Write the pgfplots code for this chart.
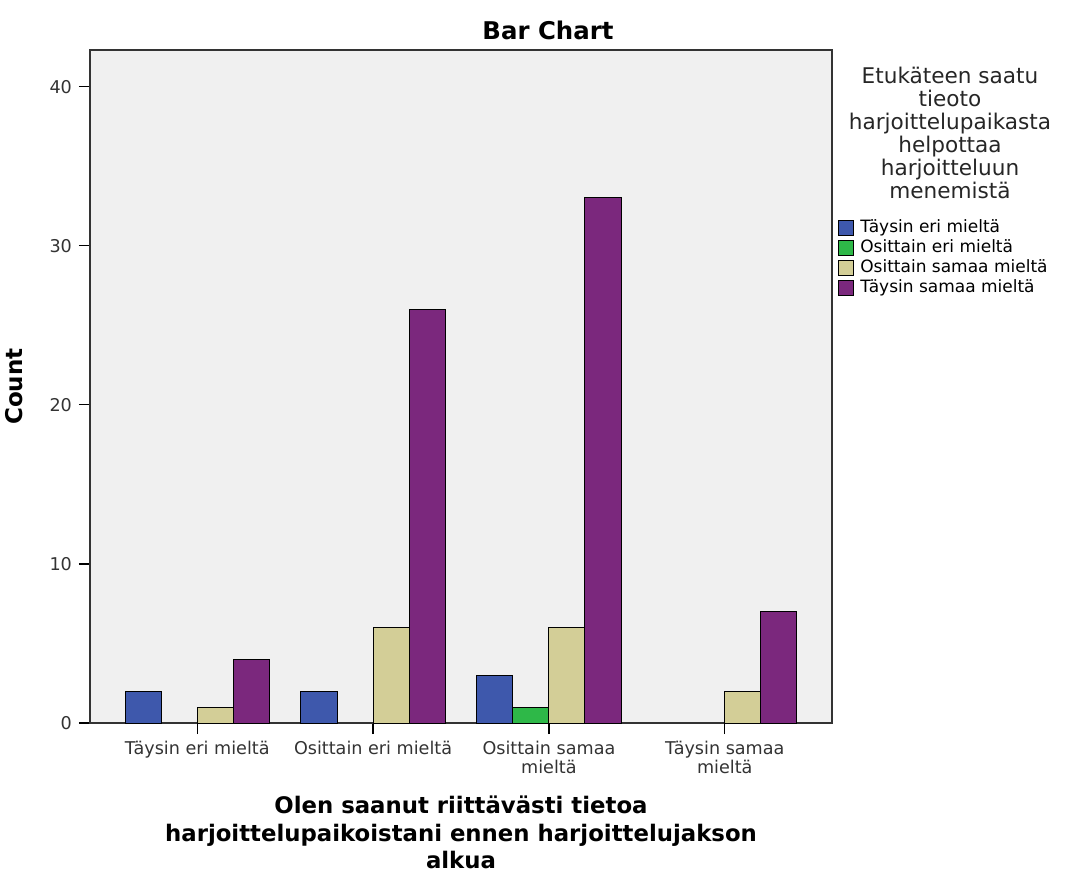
\documentclass[border=0pt]{standalone}
\usepackage{pgfplots}
\pgfplotsset{compat=1.18}
\usepackage{fontspec}
\setmainfont{DejaVu Sans}
\definecolor{cblue}{HTML}{3E58AC}
\definecolor{cgreen}{HTML}{2EB848}
\definecolor{cbeige}{HTML}{D3CE97}
\definecolor{cpurple}{HTML}{7B287D}
\definecolor{cbg}{HTML}{F0F0F0}
\begin{document}
\begin{tikzpicture}
\useasboundingbox (-45pt,-75pt) rectangle (489pt,361.5pt);
\begin{axis}[
  at={(0pt,0pt)}, anchor=south west,
  scale only axis,
  width=371pt, height=336.5pt,
  axis background/.style={fill=cbg},
  ybar=0pt,
  bar width=0.205,
  xmin=-0.61, xmax=3.61,
  ymin=0, ymax=42.3,
  xtick={0,1,2,3},
  xticklabels={T\"aysin eri mielt\"a, Osittain eri mielt\"a, Osittain samaa\\mielt\"a, T\"aysin samaa\\mielt\"a},
  xticklabel style={align=center, font=\fontsize{8.8}{9.6}\selectfont, text=black!80},
  ytick={0,10,20,30,40},
  yticklabel style={font=\fontsize{8.8}{9.6}\selectfont, text=black!80},
  /pgf/number format/assume math mode=true,
  tick align=outside,
  xtick pos=bottom, ytick pos=left,
  major tick length=5.5pt,
  tick style={black, line width=0.6pt},
  axis line style={line width=0.7pt, black!80},
  ylabel={\bfseries Count},
  ylabel style={font=\fontsize{11.5}{12}\selectfont, at={(axis description cs:-0.081,0.5)}},
  xlabel={\bfseries Olen saanut riittävästi tietoa\\\bfseries harjoittelupaikoistani ennen harjoittelujakson\\\bfseries alkua},
  xlabel style={align=center, font=\fontsize{11.4}{13.7}\selectfont, at={(axis description cs:0.5,-0.098)}, anchor=north},
  legend style={at={(1.008,0.75)}, anchor=north west, draw=none, fill=none,
    font=\fontsize{8.5}{9.5}\selectfont, row sep=0.5pt, inner sep=0pt,
    nodes={inner sep=0.5pt, text height=6.5pt, text depth=2pt}},
  legend cell align=left,
  legend image code/.code={\draw[#1, draw=black, line width=0.5pt] (1pt,-3.7pt) rectangle (8.4pt,3.7pt); \path (11pt,0pt);},
  every axis plot/.append style={draw=black, line width=0.5pt},
]
\addplot[fill=cblue] coordinates {(0,2) (1,2) (2,3)};
\addplot[fill=cgreen] coordinates {(2,1)};
\addplot[fill=cbeige] coordinates {(0,1) (1,6) (2,6) (3,2)};
\addplot[fill=cpurple] coordinates {(0,4) (1,26) (2,33) (3,7)};
\legend{T\"aysin eri mielt\"a, Osittain eri mielt\"a, Osittain samaa mielt\"a, T\"aysin samaa mielt\"a}
\end{axis}
\node[align=center, font=\fontsize{10.8}{11.5}\selectfont, text=black!85] at (430pt,295pt) {Etuk\"ateen saatu\\tieoto\\harjoittelupaikasta\\helpottaa\\harjoitteluun\\menemist\"a};
\node[font=\bfseries\fontsize{12.2}{13}\selectfont] at (229pt,346.5pt) {Bar Chart};
\end{tikzpicture}
\end{document}
